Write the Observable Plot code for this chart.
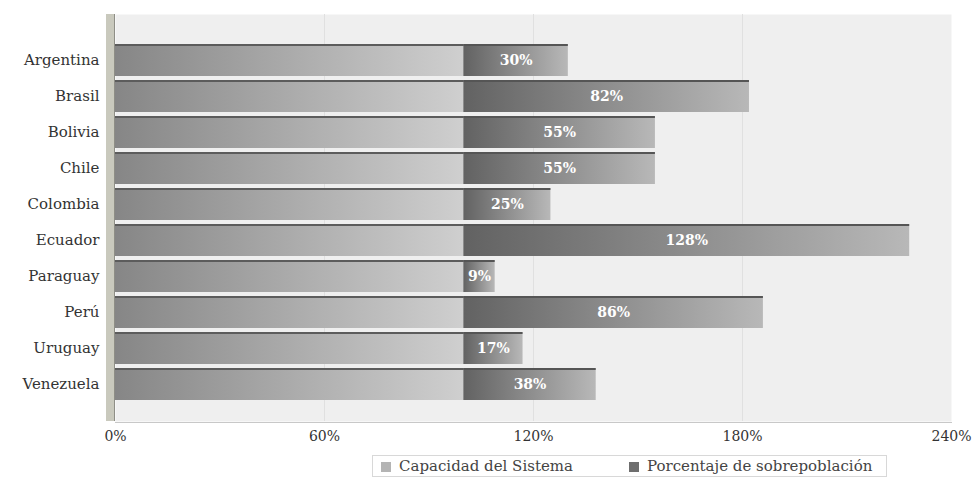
<!DOCTYPE html>
<html><head><meta charset="utf-8">
<script src="https://cdn.jsdelivr.net/npm/d3@7"></script>
<script src="https://cdn.jsdelivr.net/npm/@observablehq/plot@0.6"></script>
<style>
body{margin:0;background:#fff;font-family:"DejaVu Serif",serif;}
#legend{margin-left:372px;margin-top:5px;display:inline-flex;align-items:center;gap:56px;border:1px solid #d8d8d8;padding:1px 14px 1px 8px;font-size:15px;color:#444;}
#legend span.sw{display:inline-block;width:10px;height:10px;margin-right:8px;vertical-align:middle;}
</style></head><body>
<div id="chart"></div>
<div id="legend"></div>
<script>
const countries = ["Argentina","Brasil","Bolivia","Chile","Colombia","Ecuador","Paraguay","Perú","Uruguay","Venezuela"];
const capacity = [100,100,100,100,100,100,100,100,100,100];
const overpop = [30,82,55,55,25,128,9,86,17,38];
const xTicks = [0,60,120,180,240];
const seriesNames = ["Capacidad del Sistema","Porcentaje de sobrepoblación"];
const seriesColors = ["#b4b4b4","#6e6e6e"];

const capRows = countries.map((c,i)=>({country:c, x1:0, x2:capacity[i], v:capacity[i]}));
const overRows = countries.map((c,i)=>({country:c, x1:capacity[i], x2:capacity[i]+overpop[i], v:overpop[i]}));

const chart = Plot.plot({
  width:975, height:450,
  marginLeft:115, marginRight:24, marginTop:38, marginBottom:43,
  x:{domain:[0,240]},
  y:{domain:countries, padding:0.1},
  style:{fontFamily:"DejaVu Serif", fontSize:"14px", color:"#333", background:"transparent"},
  marks:[
    Plot.frame({fill:"#efefef", stroke:null, insetTop:-24, insetBottom:-14}),
    Plot.ruleX([60,120,180], {stroke:"#e0e0e0", insetTop:-24, insetBottom:-14}),
    Plot.frame({anchor:"bottom", stroke:"#c8c8c8", dy:15}),
    Plot.ruleX([0], {stroke:"#c9c9bd", strokeWidth:9, dx:-5, insetTop:-24, insetBottom:-14}),
    Plot.ruleX([0], {stroke:"#8e8e86", strokeWidth:1, dx:-1, insetTop:-24, insetBottom:-14}),
    Plot.barX(capRows, {x1:"x1", x2:"x2", y:"country", fill:"url(#gCap)"}),
    Plot.barX(overRows, {x1:"x1", x2:"x2", y:"country", fill:"url(#gOver)"}),
    Plot.barX(capRows, {x1:"x1", x2:"x2", y:"country", fill:"#5c5c5c", insetBottom:30}),
    Plot.barX(overRows, {x1:"x1", x2:"x2", y:"country", fill:"#555", insetBottom:30}),
    Plot.ruleX(overRows, {x:"x2", y:"country", stroke:"#505050", strokeWidth:3, dx:-1.5}),
    Plot.text(overRows, {x:d=>d.x1+d.v/2, y:"country", text:d=>d.v+"%", fill:"white", fontWeight:"bold", fontSize:14}),
    Plot.axisX({ticks:xTicks, tickFormat:d=>d+"%", tickSize:0, tickPadding:24, label:null, fontSize:14}),
    Plot.axisY({tickSize:0, tickPadding:16, label:null, fontSize:15})
  ]
});

const svg = d3.select(chart);
const defs = svg.insert("defs", ":first-child");
const g1 = defs.append("linearGradient").attr("id","gCap").attr("x1","0").attr("x2","1").attr("y1","0").attr("y2","0");
g1.append("stop").attr("offset","0").attr("stop-color","#868686");
g1.append("stop").attr("offset","1").attr("stop-color","#cfcfcf");
const g2 = defs.append("linearGradient").attr("id","gOver").attr("x1","0").attr("x2","1").attr("y1","0").attr("y2","0");
g2.append("stop").attr("offset","0").attr("stop-color","#626262");
g2.append("stop").attr("offset","1").attr("stop-color","#b8b8b8");
document.getElementById("chart").appendChild(chart);

const lg = d3.select("#legend");
seriesNames.forEach((n,i)=>{
  const it = lg.append("div");
  it.append("span").attr("class","sw").style("background",seriesColors[i]);
  it.append("span").text(n);
});
</script>
</body></html>
